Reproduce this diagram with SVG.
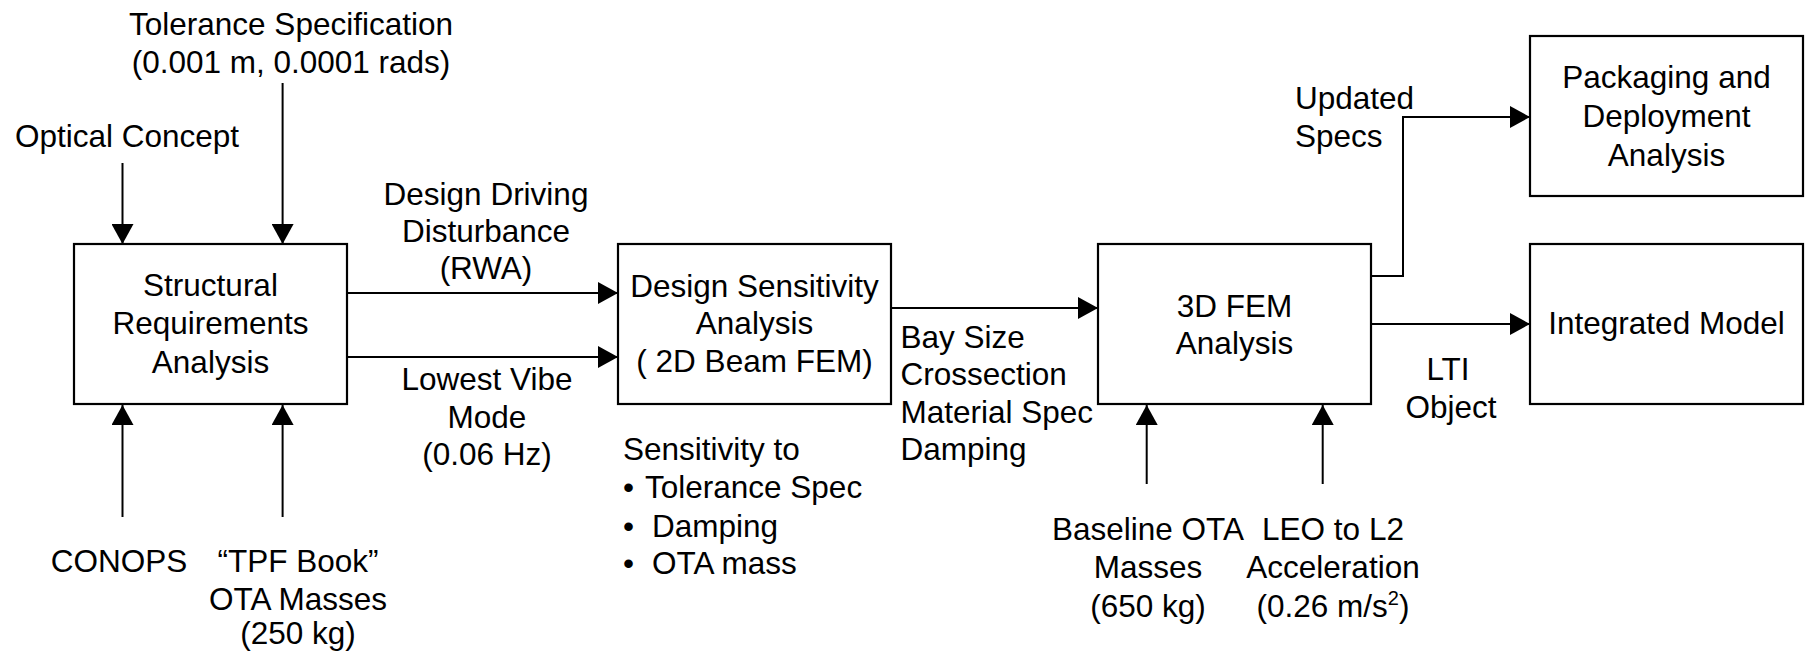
<svg xmlns="http://www.w3.org/2000/svg" width="1805" height="657" viewBox="0 0 1805 657">
<style>
text{font-family:"Liberation Sans",Arial,sans-serif;font-size:31.5px;fill:#000}
.c{text-anchor:middle}
.box{fill:#fff;stroke:#000;stroke-width:2.2}
.ln{fill:none;stroke:#000;stroke-width:2}
</style>
<defs>
<marker id="ah" markerUnits="userSpaceOnUse" markerWidth="22" markerHeight="22" refX="20" refY="11" orient="auto">
<path d="M0,0 L20,11 L0,22 z" fill="#000"/>
</marker>
</defs>
<rect width="1805" height="657" fill="#fff"/>
<g id="connectors">
<line class="ln" x1="122.5" y1="163" x2="122.5" y2="244" marker-end="url(#ah)"/>
<line class="ln" x1="282.6" y1="83" x2="282.6" y2="244" marker-end="url(#ah)"/>
<line class="ln" x1="122.5" y1="517" x2="122.5" y2="405" marker-end="url(#ah)"/>
<line class="ln" x1="282.6" y1="517" x2="282.6" y2="405" marker-end="url(#ah)"/>
<line class="ln" x1="347" y1="293" x2="618" y2="293" marker-end="url(#ah)"/>
<line class="ln" x1="347" y1="357" x2="618" y2="357" marker-end="url(#ah)"/>
<line class="ln" x1="891" y1="308" x2="1098" y2="308" marker-end="url(#ah)"/>
<polyline class="ln" points="1371,276 1403,276 1403,117 1530,117" marker-end="url(#ah)"/>
<line class="ln" x1="1371" y1="324" x2="1530" y2="324" marker-end="url(#ah)"/>
<line class="ln" x1="1146.7" y1="484" x2="1146.7" y2="405" marker-end="url(#ah)"/>
<line class="ln" x1="1322.7" y1="484" x2="1322.7" y2="405" marker-end="url(#ah)"/>
</g>
<g id="n1">
<rect class="box" x="74" y="244" width="273" height="160"/>
<text class="c"><tspan x="210.5" y="296">Structural</tspan><tspan x="210.5" y="334">Requirements</tspan><tspan x="210.5" y="373">Analysis</tspan></text>
</g>
<g id="n2">
<rect class="box" x="618" y="244" width="273" height="160"/>
<text class="c"><tspan x="754.5" y="297">Design Sensitivity</tspan><tspan x="754.5" y="334">Analysis</tspan><tspan x="754.5" y="372">( 2D Beam FEM)</tspan></text>
</g>
<g id="n3">
<rect class="box" x="1098" y="244" width="273" height="160"/>
<text class="c"><tspan x="1234.5" y="317">3D FEM</tspan><tspan x="1234.5" y="354">Analysis</tspan></text>
</g>
<g id="n4">
<rect class="box" x="1530" y="36" width="273" height="160"/>
<text class="c"><tspan x="1666.5" y="88">Packaging and</tspan><tspan x="1666.5" y="127">Deployment</tspan><tspan x="1666.5" y="166">Analysis</tspan></text>
</g>
<g id="n5">
<rect class="box" x="1530" y="244" width="273" height="160"/>
<text class="c" x="1666.5" y="334">Integrated Model</text>
</g>
<g id="labels">
<text class="c"><tspan x="291" y="35">Tolerance Specification</tspan><tspan x="291" y="73">(0.001 m, 0.0001 rads)</tspan></text>
<text class="c" x="127" y="147">Optical Concept</text>
<text class="c"><tspan x="486" y="205">Design Driving</tspan><tspan x="486" y="242">Disturbance</tspan><tspan x="486" y="279">(RWA)</tspan></text>
<text class="c"><tspan x="487" y="390">Lowest Vibe</tspan><tspan x="487" y="428">Mode</tspan><tspan x="487" y="465">(0.06 Hz)</tspan></text>
<text class="c" x="119" y="572">CONOPS</text>
<text class="c"><tspan x="298" y="572">“TPF Book”</tspan><tspan x="298" y="610">OTA Masses</tspan><tspan x="298" y="644">(250 kg)</tspan></text>
<text><tspan x="623" y="460">Sensitivity to</tspan><tspan x="623" y="498">•</tspan><tspan x="645" y="498">Tolerance Spec</tspan><tspan x="623" y="537">•</tspan><tspan x="652" y="537">Damping</tspan><tspan x="623" y="574">•</tspan><tspan x="652" y="574">OTA mass</tspan></text>
<text><tspan x="900.5" y="348">Bay Size</tspan><tspan x="900.5" y="385">Crossection</tspan><tspan x="900.5" y="423">Material Spec</tspan><tspan x="900.5" y="460">Damping</tspan></text>
<text><tspan x="1295" y="109">Updated</tspan><tspan x="1295" y="147">Specs</tspan></text>
<text class="c"><tspan x="1448" y="380">LTI</tspan><tspan x="1451" y="418">Object</tspan></text>
<text class="c"><tspan x="1148" y="540">Baseline OTA</tspan><tspan x="1148" y="578">Masses</tspan><tspan x="1148" y="617">(650 kg)</tspan></text>
<text class="c"><tspan x="1333" y="540">LEO to L2</tspan><tspan x="1333" y="578">Acceleration</tspan><tspan x="1333" y="617">(0.26 m/s<tspan font-size="20" dy="-12">2</tspan><tspan dy="12">)</tspan></tspan></text>
</g>
</svg>
